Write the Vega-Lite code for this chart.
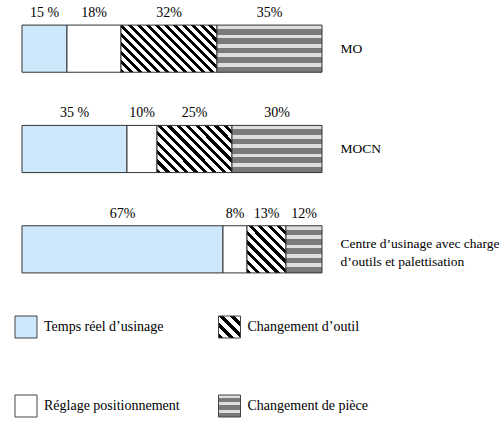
{
  "$schema": "https://vega.github.io/schema/vega-lite/v6.json",
  "background": "white",
  "padding": {"left": 12, "top": 0, "right": 0, "bottom": 0},
  "spacing": 15,
  "config": {
    "view": {"stroke": null},
    "font": "Liberation Serif",
    "text": {"font": "Liberation Serif", "fontSize": 14, "color": "black"}
  },
  "datasets": {
    "temps": [
      {"machine": "MO", "categorie": "Temps réel d’usinage", "pct": 15, "etiquette": "15 %"},
      {"machine": "MO", "categorie": "Réglage positionnement", "pct": 18, "etiquette": "18%"},
      {"machine": "MO", "categorie": "Changement d’outil", "pct": 32, "etiquette": "32%"},
      {"machine": "MO", "categorie": "Changement de pièce", "pct": 35, "etiquette": "35%"},
      {"machine": "MOCN", "categorie": "Temps réel d’usinage", "pct": 35, "etiquette": "35 %"},
      {"machine": "MOCN", "categorie": "Réglage positionnement", "pct": 10, "etiquette": "10%"},
      {"machine": "MOCN", "categorie": "Changement d’outil", "pct": 25, "etiquette": "25%"},
      {"machine": "MOCN", "categorie": "Changement de pièce", "pct": 30, "etiquette": "30%"},
      {"machine": "Centre d’usinage avec charge\nd’outils et palettisation", "categorie": "Temps réel d’usinage", "pct": 67, "etiquette": "67%"},
      {"machine": "Centre d’usinage avec charge\nd’outils et palettisation", "categorie": "Réglage positionnement", "pct": 8, "etiquette": "8%"},
      {"machine": "Centre d’usinage avec charge\nd’outils et palettisation", "categorie": "Changement d’outil", "pct": 13, "etiquette": "13%"},
      {"machine": "Centre d’usinage avec charge\nd’outils et palettisation", "categorie": "Changement de pièce", "pct": 12, "etiquette": "12%"}
    ]
  },
  "vconcat": [
    {
      "width": 307,
      "height": 298,
      "data": {"name": "temps"},
      "transform": [
        {"stack": "pct", "groupby": ["machine"], "as": ["debut", "fin"]},
        {"calculate": "(datum.debut + datum.fin) / 2", "as": "milieu"}
      ],
      "encoding": {
        "y": {
          "field": "machine", "type": "nominal", "sort": null,
          "scale": {"paddingInner": 0.53, "paddingOuter": 0.25},
          "axis": {
            "orient": "right", "title": null, "domain": false, "ticks": false,
            "labelPadding": 18, "labelFont": "Liberation Serif", "labelFontSize": 13.5,
            "labelColor": "black", "labelLineHeight": 18, "labelLimit": 300,
            "labelOffset": {"condition": {"test": "datum.value !== 'MO' && datum.value !== 'MOCN'", "value": -5}, "value": 0},
            "labelExpr": "split(datum.label, '\\n')"
          }
        }
      },
      "layer": [
        {
          "mark": {"type": "rect", "stroke": "#333", "strokeWidth": 1},
          "encoding": {
            "x": {"field": "debut", "type": "quantitative", "scale": {"domain": [-2.3333, 100], "nice": false}, "axis": null},
            "x2": {"field": "fin"},
            "fill": {
              "condition": [
                {"test": "datum.categorie === 'Temps réel d’usinage'", "value": "#cde8fb"},
                {"test": "datum.categorie === 'Réglage positionnement'", "value": "#ffffff"},
                {"test": "datum.categorie === 'Changement de pièce'", "value": {
                  "gradient": "linear", "x1": 0, "y1": 0, "x2": 0, "y2": 1,
                  "stops": [
                    {"offset": 0, "color": "#dedede"}, {"offset": 0.08, "color": "#dedede"}, {"offset": 0.08, "color": "#7a7a7a"}, {"offset": 0.2, "color": "#7a7a7a"},
                    {"offset": 0.2, "color": "#dedede"}, {"offset": 0.28, "color": "#dedede"}, {"offset": 0.28, "color": "#7a7a7a"}, {"offset": 0.4, "color": "#7a7a7a"},
                    {"offset": 0.4, "color": "#dedede"}, {"offset": 0.48, "color": "#dedede"}, {"offset": 0.48, "color": "#7a7a7a"}, {"offset": 0.6, "color": "#7a7a7a"},
                    {"offset": 0.6, "color": "#dedede"}, {"offset": 0.68, "color": "#dedede"}, {"offset": 0.68, "color": "#7a7a7a"}, {"offset": 0.8, "color": "#7a7a7a"},
                    {"offset": 0.8, "color": "#dedede"}, {"offset": 0.88, "color": "#dedede"}, {"offset": 0.88, "color": "#7a7a7a"}, {"offset": 1, "color": "#7a7a7a"}
                  ]}},
                {"test": "datum.machine === 'MO'", "value": {
                  "gradient": "linear", "x1": 0, "y1": 1, "x2": 1.2016, "y2": 0.4117,
                  "stops": [
                    {"offset": 0, "color": "#000"}, {"offset": 0.0281, "color": "#000"}, {"offset": 0.0281, "color": "#fff"}, {"offset": 0.0625, "color": "#fff"},
                    {"offset": 0.0625, "color": "#000"}, {"offset": 0.0906, "color": "#000"}, {"offset": 0.0906, "color": "#fff"}, {"offset": 0.125, "color": "#fff"},
                    {"offset": 0.125, "color": "#000"}, {"offset": 0.1531, "color": "#000"}, {"offset": 0.1531, "color": "#fff"}, {"offset": 0.1875, "color": "#fff"},
                    {"offset": 0.1875, "color": "#000"}, {"offset": 0.2156, "color": "#000"}, {"offset": 0.2156, "color": "#fff"}, {"offset": 0.25, "color": "#fff"},
                    {"offset": 0.25, "color": "#000"}, {"offset": 0.2781, "color": "#000"}, {"offset": 0.2781, "color": "#fff"}, {"offset": 0.3125, "color": "#fff"},
                    {"offset": 0.3125, "color": "#000"}, {"offset": 0.3406, "color": "#000"}, {"offset": 0.3406, "color": "#fff"}, {"offset": 0.375, "color": "#fff"},
                    {"offset": 0.375, "color": "#000"}, {"offset": 0.4031, "color": "#000"}, {"offset": 0.4031, "color": "#fff"}, {"offset": 0.4375, "color": "#fff"},
                    {"offset": 0.4375, "color": "#000"}, {"offset": 0.4656, "color": "#000"}, {"offset": 0.4656, "color": "#fff"}, {"offset": 0.5, "color": "#fff"},
                    {"offset": 0.5, "color": "#000"}, {"offset": 0.5281, "color": "#000"}, {"offset": 0.5281, "color": "#fff"}, {"offset": 0.5625, "color": "#fff"},
                    {"offset": 0.5625, "color": "#000"}, {"offset": 0.5906, "color": "#000"}, {"offset": 0.5906, "color": "#fff"}, {"offset": 0.625, "color": "#fff"},
                    {"offset": 0.625, "color": "#000"}, {"offset": 0.6531, "color": "#000"}, {"offset": 0.6531, "color": "#fff"}, {"offset": 0.6875, "color": "#fff"},
                    {"offset": 0.6875, "color": "#000"}, {"offset": 0.7156, "color": "#000"}, {"offset": 0.7156, "color": "#fff"}, {"offset": 0.75, "color": "#fff"},
                    {"offset": 0.75, "color": "#000"}, {"offset": 0.7781, "color": "#000"}, {"offset": 0.7781, "color": "#fff"}, {"offset": 0.8125, "color": "#fff"},
                    {"offset": 0.8125, "color": "#000"}, {"offset": 0.8406, "color": "#000"}, {"offset": 0.8406, "color": "#fff"}, {"offset": 0.875, "color": "#fff"},
                    {"offset": 0.875, "color": "#000"}, {"offset": 0.9031, "color": "#000"}, {"offset": 0.9031, "color": "#fff"}, {"offset": 0.9375, "color": "#fff"},
                    {"offset": 0.9375, "color": "#000"}, {"offset": 0.9656, "color": "#000"}, {"offset": 0.9656, "color": "#fff"}, {"offset": 1, "color": "#fff"}
                  ]}},
                {"test": "datum.machine === 'MOCN'", "value": {
                  "gradient": "linear", "x1": 0, "y1": 1, "x2": 1.168, "y2": 0.2681,
                  "stops": [
                    {"offset": 0, "color": "#000"}, {"offset": 0.0346, "color": "#000"}, {"offset": 0.0346, "color": "#fff"}, {"offset": 0.0769, "color": "#fff"},
                    {"offset": 0.0769, "color": "#000"}, {"offset": 0.1115, "color": "#000"}, {"offset": 0.1115, "color": "#fff"}, {"offset": 0.1538, "color": "#fff"},
                    {"offset": 0.1538, "color": "#000"}, {"offset": 0.1885, "color": "#000"}, {"offset": 0.1885, "color": "#fff"}, {"offset": 0.2308, "color": "#fff"},
                    {"offset": 0.2308, "color": "#000"}, {"offset": 0.2654, "color": "#000"}, {"offset": 0.2654, "color": "#fff"}, {"offset": 0.3077, "color": "#fff"},
                    {"offset": 0.3077, "color": "#000"}, {"offset": 0.3423, "color": "#000"}, {"offset": 0.3423, "color": "#fff"}, {"offset": 0.3846, "color": "#fff"},
                    {"offset": 0.3846, "color": "#000"}, {"offset": 0.4192, "color": "#000"}, {"offset": 0.4192, "color": "#fff"}, {"offset": 0.4615, "color": "#fff"},
                    {"offset": 0.4615, "color": "#000"}, {"offset": 0.4962, "color": "#000"}, {"offset": 0.4962, "color": "#fff"}, {"offset": 0.5385, "color": "#fff"},
                    {"offset": 0.5385, "color": "#000"}, {"offset": 0.5731, "color": "#000"}, {"offset": 0.5731, "color": "#fff"}, {"offset": 0.6154, "color": "#fff"},
                    {"offset": 0.6154, "color": "#000"}, {"offset": 0.65, "color": "#000"}, {"offset": 0.65, "color": "#fff"}, {"offset": 0.6923, "color": "#fff"},
                    {"offset": 0.6923, "color": "#000"}, {"offset": 0.7269, "color": "#000"}, {"offset": 0.7269, "color": "#fff"}, {"offset": 0.7692, "color": "#fff"},
                    {"offset": 0.7692, "color": "#000"}, {"offset": 0.8038, "color": "#000"}, {"offset": 0.8038, "color": "#fff"}, {"offset": 0.8462, "color": "#fff"},
                    {"offset": 0.8462, "color": "#000"}, {"offset": 0.8808, "color": "#000"}, {"offset": 0.8808, "color": "#fff"}, {"offset": 0.9231, "color": "#fff"},
                    {"offset": 0.9231, "color": "#000"}, {"offset": 0.9577, "color": "#000"}, {"offset": 0.9577, "color": "#fff"}, {"offset": 1, "color": "#fff"}
                  ]}}
              ],
              "value": {
                "gradient": "linear", "x1": 0, "y1": 1, "x2": 0.8992, "y2": -0.0836,
                "stops": [
                  {"offset": 0, "color": "#000"}, {"offset": 0.05, "color": "#000"}, {"offset": 0.05, "color": "#fff"}, {"offset": 0.1111, "color": "#fff"},
                  {"offset": 0.1111, "color": "#000"}, {"offset": 0.1611, "color": "#000"}, {"offset": 0.1611, "color": "#fff"}, {"offset": 0.2222, "color": "#fff"},
                  {"offset": 0.2222, "color": "#000"}, {"offset": 0.2722, "color": "#000"}, {"offset": 0.2722, "color": "#fff"}, {"offset": 0.3333, "color": "#fff"},
                  {"offset": 0.3333, "color": "#000"}, {"offset": 0.3833, "color": "#000"}, {"offset": 0.3833, "color": "#fff"}, {"offset": 0.4444, "color": "#fff"},
                  {"offset": 0.4444, "color": "#000"}, {"offset": 0.4944, "color": "#000"}, {"offset": 0.4944, "color": "#fff"}, {"offset": 0.5556, "color": "#fff"},
                  {"offset": 0.5556, "color": "#000"}, {"offset": 0.6056, "color": "#000"}, {"offset": 0.6056, "color": "#fff"}, {"offset": 0.6667, "color": "#fff"},
                  {"offset": 0.6667, "color": "#000"}, {"offset": 0.7167, "color": "#000"}, {"offset": 0.7167, "color": "#fff"}, {"offset": 0.7778, "color": "#fff"},
                  {"offset": 0.7778, "color": "#000"}, {"offset": 0.8278, "color": "#000"}, {"offset": 0.8278, "color": "#fff"}, {"offset": 0.8889, "color": "#fff"},
                  {"offset": 0.8889, "color": "#000"}, {"offset": 0.9389, "color": "#000"}, {"offset": 0.9389, "color": "#fff"}, {"offset": 1, "color": "#fff"}
                ]}
            }
          }
        },
        {
          "mark": {"type": "text", "baseline": "alphabetic", "dy": -8},
          "encoding": {
            "x": {"field": "milieu", "type": "quantitative"},
            "y": {"field": "machine", "type": "nominal", "sort": null, "bandPosition": 0},
            "text": {"field": "etiquette"}
          }
        }
      ]
    },
    {
      "width": 225.5,
      "height": 101,
      "data": {"name": "temps"},
      "transform": [
        {"filter": "datum.machine === 'MO'"},
        {"calculate": "indexof(['Temps réel d’usinage', 'Changement d’outil', 'Réglage positionnement', 'Changement de pièce'], datum.categorie)", "as": "rangLegende"},
        {"calculate": "datum.rangLegende % 2", "as": "colonne"},
        {"calculate": "floor(datum.rangLegende / 2)", "as": "ligne"}
      ],
      "encoding": {
        "x": {"field": "colonne", "type": "ordinal", "scale": {"type": "point", "padding": 0.054}, "axis": null},
        "y": {"field": "ligne", "type": "ordinal", "scale": {"type": "point", "padding": 0.139}, "axis": null}
      },
      "layer": [
        {
          "mark": {"type": "point", "shape": "square", "size": 484, "filled": true, "opacity": 1, "stroke": "#444", "strokeWidth": 1},
          "encoding": {
            "fill": {
              "condition": [
                {"test": "datum.categorie === 'Temps réel d’usinage'", "value": "#cde8fb"},
                {"test": "datum.categorie === 'Réglage positionnement'", "value": "#ffffff"},
                {"test": "datum.categorie === 'Changement d’outil'", "value": {
                  "gradient": "linear", "x1": 0, "y1": 1, "x2": 1, "y2": 0,
                  "stops": [
                    {"offset": 0, "color": "#000"}, {"offset": 0.1125, "color": "#000"}, {"offset": 0.1125, "color": "#fff"}, {"offset": 0.25, "color": "#fff"},
                    {"offset": 0.25, "color": "#000"}, {"offset": 0.3625, "color": "#000"}, {"offset": 0.3625, "color": "#fff"}, {"offset": 0.5, "color": "#fff"},
                    {"offset": 0.5, "color": "#000"}, {"offset": 0.6125, "color": "#000"}, {"offset": 0.6125, "color": "#fff"}, {"offset": 0.75, "color": "#fff"},
                    {"offset": 0.75, "color": "#000"}, {"offset": 0.8625, "color": "#000"}, {"offset": 0.8625, "color": "#fff"}, {"offset": 1, "color": "#fff"}
                  ]}}
              ],
              "value": {
                "gradient": "linear", "x1": 0, "y1": 0, "x2": 0, "y2": 1,
                "stops": [
                  {"offset": 0, "color": "#dedede"}, {"offset": 0.14, "color": "#dedede"}, {"offset": 0.14, "color": "#7a7a7a"}, {"offset": 0.333, "color": "#7a7a7a"},
                  {"offset": 0.333, "color": "#dedede"}, {"offset": 0.473, "color": "#dedede"}, {"offset": 0.473, "color": "#7a7a7a"}, {"offset": 0.667, "color": "#7a7a7a"},
                  {"offset": 0.667, "color": "#dedede"}, {"offset": 0.807, "color": "#dedede"}, {"offset": 0.807, "color": "#7a7a7a"}, {"offset": 1, "color": "#7a7a7a"}
                ]}
            }
          }
        },
        {
          "mark": {"type": "text", "align": "left", "baseline": "middle", "dx": 18},
          "encoding": {"text": {"field": "categorie"}}
        }
      ]
    }
  ]
}
